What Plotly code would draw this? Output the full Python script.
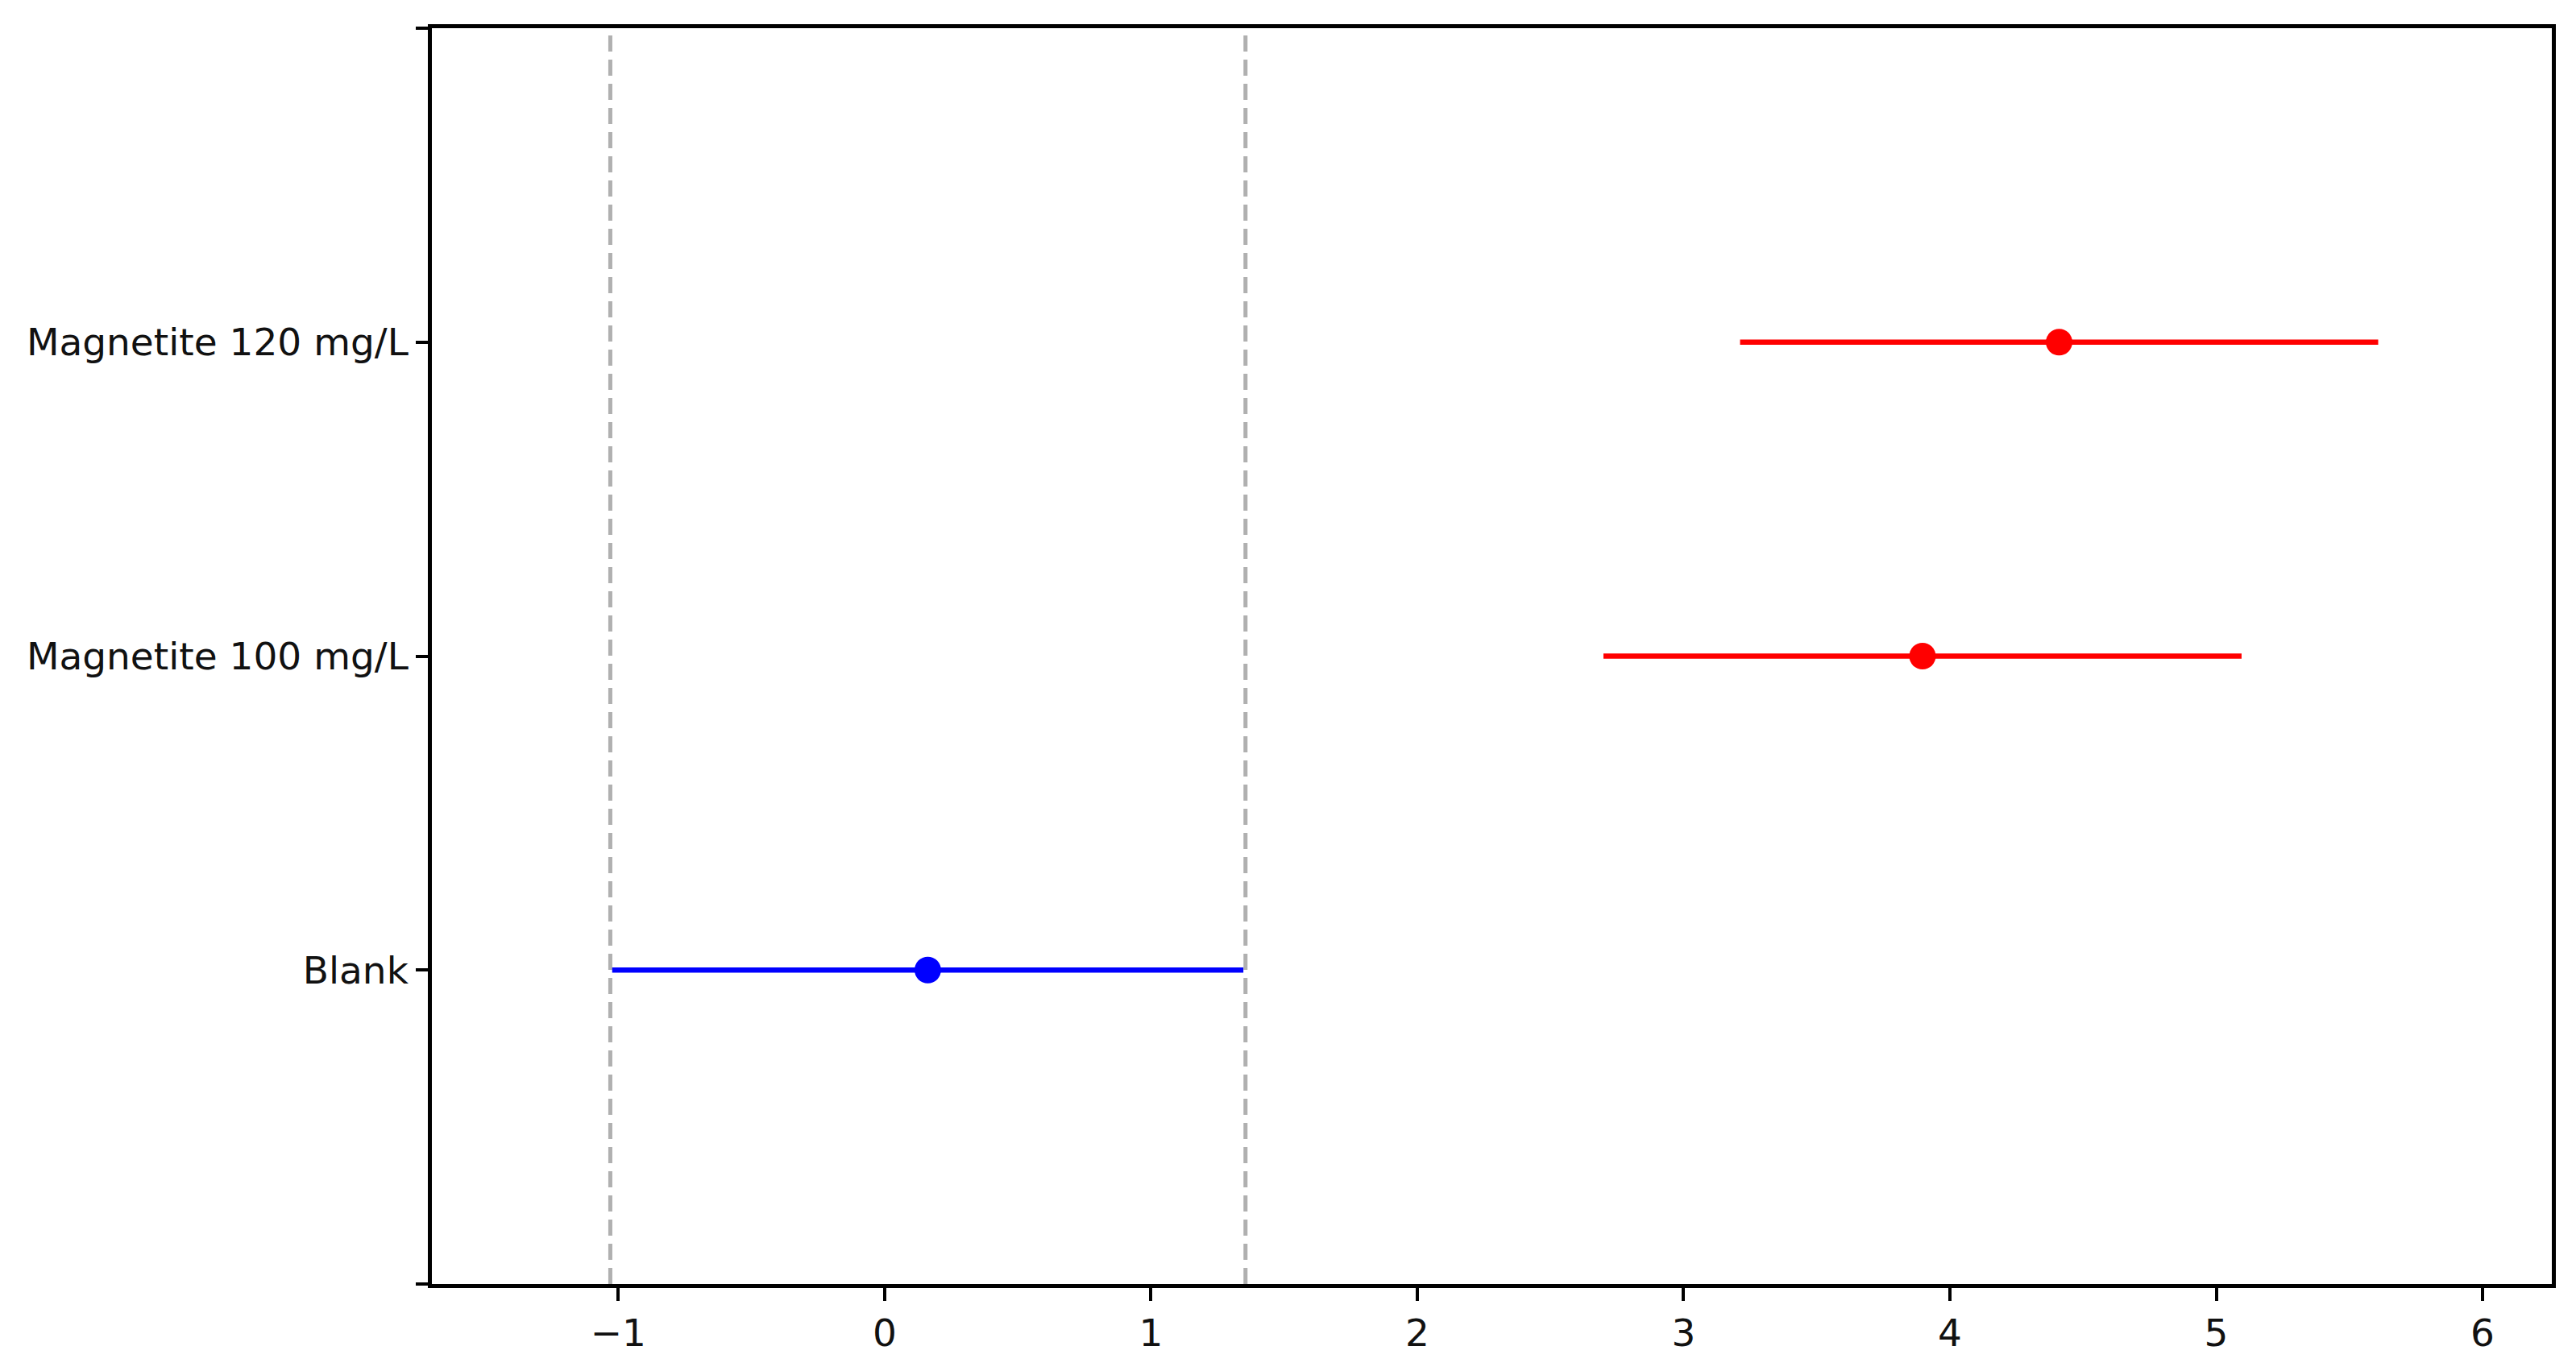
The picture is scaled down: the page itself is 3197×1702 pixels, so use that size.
import plotly.graph_objects as go

# Data
categories = ['Blank', 'Magnetite 100 mg/L', 'Magnetite 120 mg/L']
means = [0.162, 3.897, 4.410]
ci_half = [1.185, 1.198, 1.198]
colors = ['#0000ff', '#ff0000', '#ff0000']

# blank limits (dashed reference lines)
blank_limits = [-1.03, 1.355]

x_ticks = [-1, 0, 1, 2, 3, 4, 5, 6]
x_range = [-1.70, 6.26]

FONT = 'DejaVu Sans'
FS = 47

fig = go.Figure()

ypos = list(range(len(categories)))
for i, cat in enumerate(categories):
    fig.add_trace(go.Scatter(
        x=[means[i]], y=[ypos[i]], mode='markers', name=cat,
        marker=dict(color=colors[i], size=33, line=dict(width=0)),
        error_x=dict(type='data', array=[ci_half[i]], color=colors[i],
                     thickness=6.5, width=0),
        showlegend=False,
    ))

for xv in blank_limits:
    fig.add_shape(type='line', xref='x', yref='paper', x0=xv, x1=xv, y0=0, y1=1,
                  line=dict(color='#b0b0b0', width=5, dash='20px,10px'), layer='below')

# page body adds 8px offset, margins compensate
fig.update_layout(
    width=3197, height=1702,
    margin=dict(l=528, r=38, t=27, b=116),
    paper_bgcolor='white', plot_bgcolor='white',
    font=dict(family=FONT, size=FS, color='black'),
)
fig.update_xaxes(
    range=x_range, tickvals=x_ticks,
    ticktext=[str(t).replace('-', '\u2212') for t in x_ticks],
    showgrid=False, zeroline=False, automargin=False,
    showline=True, mirror=True, linecolor='black', linewidth=4.5,
    ticks='outside', ticklen=16, tickwidth=3.5, tickcolor='black',
    tickfont=dict(family=FONT, size=FS, color='#111111'),
)
fig.update_yaxes(
    range=[-1, 3], tickvals=[-1] + ypos + [3], ticktext=[''] + categories + [''],
    showgrid=False, zeroline=False, automargin=False,
    showline=True, mirror=True, linecolor='black', linewidth=4.5,
    ticks='outside', ticklen=15, tickwidth=3.5, tickcolor='black',
    tickfont=dict(family=FONT, size=FS, color='#111111'),
)

fig.write_html("out.html")
